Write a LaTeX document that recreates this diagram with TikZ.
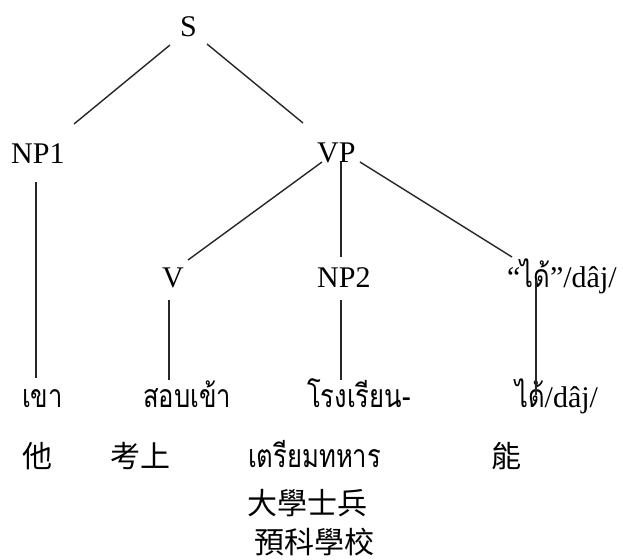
\documentclass[tikz,border=0pt]{standalone}
\usepackage{fontspec}
\setmainfont{Liberation Serif}
\newfontfamily\thaifont[Script=Thai,FakeStretch=0.8]{Loma}
\newfontfamily\cjk{Noto Sans CJK TC}
\usetikzlibrary{calc}
\begin{document}
\begin{tikzpicture}[x=1pt,y=-1pt,
  lat/.style={font=\fontsize{30}{36}\selectfont, inner sep=0pt, anchor=base west},
  thai/.style={font=\thaifont\fontsize{32}{38}\selectfont, inner sep=0pt, anchor=base west},
  han/.style={font=\cjk\fontsize{30}{36}\selectfont, inner sep=0pt, anchor=base west},
  branch/.style={line width=1.4pt, black!85}]
\useasboundingbox (0,0) rectangle (623,559);
% category labels
\node[lat] (S) at (180,37) {S};
\node[lat] (NP1) at (11,163) {NP1};
\node[lat] (VP) at (317,162) {VP};
\node[lat] (V) at (162,287) {V};
\node[lat] (NP2) at (317,287) {NP2};
\node[lat] (dai) at (507,287) {“{\thaifont\fontsize{32}{38}\selectfont ได้}”/dâj/};
% words
\node[thai] (w1) at (22,407) {เขา};
\node[thai] (w2) at (143,407) {สอบเข้า};
\node[thai] (w3) at (307,407) {โรงเรียน-};
\node[thai] (w4) at (515,407) {ได้{\rmfamily\fontsize{30}{36}\selectfont /dâj/}};
\node[thai] (w3b) at (248,467) {เตรียมทหาร};
% glosses
\node[han] (g1) at (22,467) {他};
\node[han] (g2) at (110,467) {考上};
\node[han] (g4) at (491,467) {能};
\node[han] (g3a) at (247,514) {大學士兵};
\node[han] (g3b) at (254,553) {預科學校};
% branches
\draw[branch] ($(S.base west)+(-10,8)$) -- ($(NP1.base west)+(63,-39)$);
\draw[branch] ($(S.base west)+(27,7)$) -- ($(VP.base west)+(-14,-39)$);
\draw[branch] ($(NP1.base west)+(25,19)$) -- ($(w1.base west)+(14,-29)$);
\draw[branch] ($(VP.base west)+(5,0)$) -- ($(V.base west)+(26,-27)$);
\draw[branch] ($(VP.base west)+(24,0)$) -- ($(NP2.base west)+(24,-30)$);
\draw[branch] ($(VP.base west)+(43,0)$) -- ($(dai.base west)+(5,-30)$);
\draw[branch] ($(V.base west)+(7,13)$) -- ($(w2.base west)+(26,-27)$);
\draw[branch] ($(NP2.base west)+(24,13)$) -- ($(w3.base west)+(34,-27)$);
\draw[branch] ($(dai.base west)+(29,-7)$) -- ($(w4.base west)+(21,-12)$);
\end{tikzpicture}
\end{document}
